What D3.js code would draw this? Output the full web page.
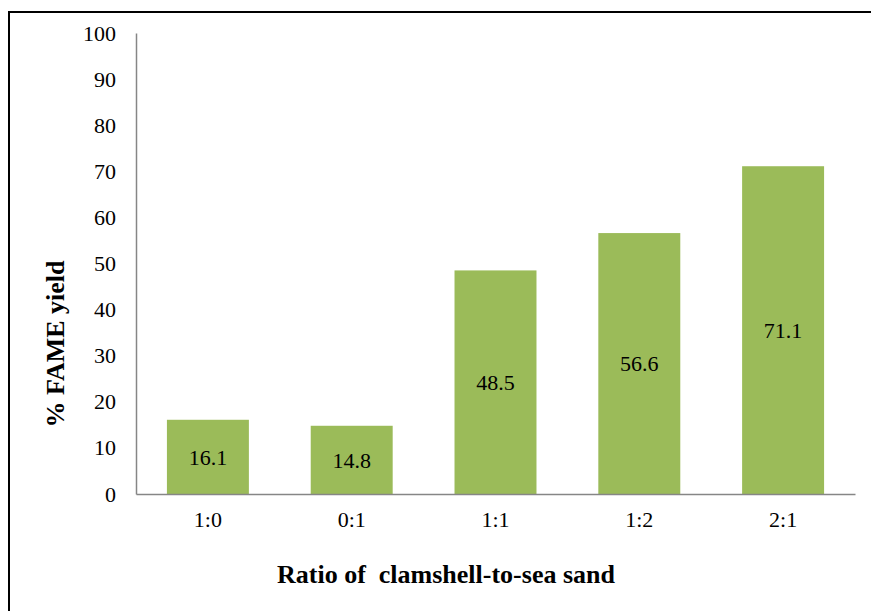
<!DOCTYPE html>
<html>
<head>
<meta charset="utf-8">
<script src="https://cdn.jsdelivr.net/npm/d3@7"></script>
<style>
  body { margin: 0; background: #fff; }
</style>
</head>
<body>
<script>
// chart data
var ratios = ["1:0", "0:1", "1:1", "1:2", "2:1"];
var yields = [16.1, 14.8, 48.5, 56.6, 71.1];
var yTicks = [0, 10, 20, 30, 40, 50, 60, 70, 80, 90, 100];

var serif = "'Liberation Serif', 'DejaVu Serif', serif";

var W = 871, H = 611;
var margin = {top: 33, right: 16, bottom: 117, left: 136},
    width = W - margin.left - margin.right,
    height = H - margin.top - margin.bottom;

var svg = d3.select("body").append("svg")
    .attr("width", W)
    .attr("height", H)
    .style("font-family", serif);

// outer frame (right and bottom sides fall outside the picture)
svg.append("rect")
    .attr("x", 9).attr("y", 12)
    .attr("width", W + 10).attr("height", H + 10)
    .attr("fill", "none")
    .attr("stroke", "#000")
    .attr("stroke-width", 2);

var g = svg.append("g")
    .attr("transform", "translate(" + margin.left + "," + margin.top + ")");

var x = d3.scaleBand()
    .domain(ratios)
    .range([0, width])
    .paddingInner(0.43)
    .paddingOuter(0.215);

var y = d3.scaleLinear()
    .domain([0, 100])
    .range([height, 0]);

// y axis
var yAxis = g.append("g")
    .call(d3.axisLeft(y).tickValues(yTicks).tickSize(0).tickPadding(20));
yAxis.attr("font-family", serif);
yAxis.select(".domain").attr("stroke", "#868686").attr("stroke-width", 1.5);
yAxis.selectAll("text")
    .attr("font-size", "22px")
    .attr("fill", "#000")
    .style("font-family", serif);

// bars
g.selectAll(".bar")
    .data(yields)
    .enter().append("rect")
    .attr("class", "bar")
    .attr("x", function(d, i) { return x(ratios[i]); })
    .attr("y", function(d) { return y(d); })
    .attr("width", x.bandwidth())
    .attr("height", function(d) { return height - y(d); })
    .attr("fill", "#9BBB59");

// value labels inside bars
g.selectAll(".lbl")
    .data(yields)
    .enter().append("text")
    .attr("class", "lbl")
    .attr("x", function(d, i) { return x(ratios[i]) + x.bandwidth() / 2; })
    .attr("y", function(d) { return (y(d) + height) / 2; })
    .attr("dy", "0.35em")
    .attr("text-anchor", "middle")
    .attr("font-size", "22px")
    .style("font-family", serif)
    .text(function(d) { return d.toFixed(1); });

// x axis
var xAxis = g.append("g")
    .attr("transform", "translate(0," + height + ")")
    .call(d3.axisBottom(x).tickSize(0).tickPadding(17));
xAxis.attr("font-family", serif);
xAxis.select(".domain").attr("stroke", "#868686").attr("stroke-width", 1.5);
xAxis.selectAll("text")
    .attr("font-size", "22px")
    .attr("fill", "#000")
    .style("font-family", serif);

// axis titles
svg.append("text")
    .attr("x", 446)
    .attr("y", 583)
    .attr("text-anchor", "middle")
    .attr("font-size", "26px")
    .attr("font-weight", "bold")
    .style("font-family", serif)
    .style("white-space", "pre")
    .text("Ratio of  clamshell-to-sea sand");

svg.append("text")
    .attr("transform", "translate(64,344) rotate(-90)")
    .attr("text-anchor", "middle")
    .attr("font-size", "26px")
    .attr("font-weight", "bold")
    .style("font-family", serif)
    .text("% FAME yield");
</script>
</body>
</html>
